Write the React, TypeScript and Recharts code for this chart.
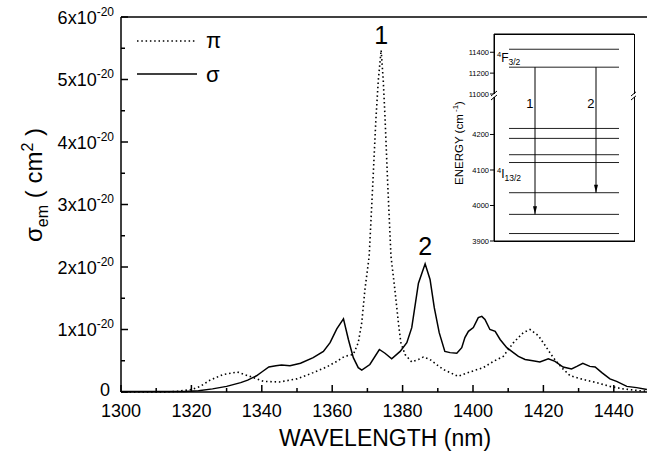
import React from 'react';
import { LineChart, Line, XAxis, YAxis, ReferenceLine, ReferenceDot, Legend } from 'recharts';

const FONT = '"Liberation Sans", Arial, Helvetica, sans-serif';

// emission cross section, units of 1e-20 cm^2
const SIGMA_NM = [1300, 1310, 1318, 1322, 1326, 1330, 1334, 1336, 1338.5, 1340, 1342, 1344, 1345.6, 1348, 1351, 1354.6, 1357.5, 1359.4, 1361.3, 1363.2, 1364.6, 1366, 1367.4, 1368.4, 1370.7, 1373.4, 1375, 1376.9, 1379.3, 1381.2, 1382.6, 1384.5, 1386.4, 1387.8, 1389, 1390.4, 1392, 1393.5, 1395.4, 1396.8, 1397.7, 1398.7, 1400.1, 1401.5, 1402.5, 1403.4, 1404.8, 1406.3, 1407.7, 1409.6, 1411, 1412.9, 1414.8, 1417, 1419, 1421.4, 1423.3, 1425.6, 1428, 1429.5, 1431.2, 1433.2, 1434.7, 1436.6, 1438.9, 1440.8, 1443.7, 1446.5, 1449.4];
const SIGMA_VAL = [0.01, 0.01, 0.01, 0.02, 0.05, 0.09, 0.15, 0.19, 0.26, 0.32, 0.40, 0.42, 0.43, 0.42, 0.46, 0.55, 0.65, 0.79, 1.01, 1.17, 0.84, 0.55, 0.39, 0.35, 0.44, 0.68, 0.62, 0.53, 0.65, 0.79, 1.03, 1.74, 2.05, 1.80, 1.35, 0.95, 0.65, 0.63, 0.62, 0.71, 0.87, 0.97, 1.03, 1.19, 1.21, 1.16, 1.0, 0.97, 0.84, 0.71, 0.65, 0.57, 0.52, 0.50, 0.48, 0.53, 0.49, 0.40, 0.37, 0.41, 0.46, 0.41, 0.40, 0.31, 0.21, 0.17, 0.09, 0.07, 0.04];

const PI_NM = [1300, 1312, 1316, 1320, 1322.5, 1325.3, 1329, 1333, 1336.6, 1340.4, 1345, 1350, 1354.6, 1358.4, 1361.3, 1363.5, 1366, 1367.4, 1368.4, 1369.3, 1370.5, 1371.5, 1372.4, 1373.1, 1373.9, 1374.5, 1375, 1375.8, 1376.7, 1377.8, 1378.8, 1379.5, 1380.7, 1382.6, 1384.5, 1385.9, 1387.8, 1390.1, 1391.6, 1395.8, 1399.1, 1402.9, 1405.8, 1408.6, 1411.5, 1414.3, 1416.2, 1418.6, 1420.9, 1422.8, 1425.2, 1427.6, 1431.3, 1435.1, 1438.9, 1442.7, 1447.4, 1450];
const PI_VAL = [0, 0, 0.01, 0.04, 0.09, 0.19, 0.28, 0.32, 0.25, 0.17, 0.16, 0.21, 0.31, 0.40, 0.49, 0.57, 0.6, 0.79, 1.11, 1.64, 2.17, 3.29, 4.35, 4.99, 5.47, 4.99, 4.4, 3.29, 2.17, 1.64, 1.11, 0.79, 0.6, 0.48, 0.52, 0.56, 0.52, 0.42, 0.36, 0.25, 0.32, 0.39, 0.49, 0.57, 0.79, 0.95, 1.0, 0.9, 0.71, 0.55, 0.39, 0.26, 0.2, 0.15, 0.09, 0.05, 0.02, 0.01];

const X_TICKS = [1300, 1310, 1320, 1330, 1340, 1350, 1360, 1370, 1380, 1390, 1400, 1410, 1420, 1430, 1440, 1450];
const Y_TICKS = [0, 0.5, 1, 1.5, 2, 2.5, 3, 3.5, 4, 4.5, 5, 5.5, 6];

// inset: Stark levels in cm-1
const UPPER_LEVELS = [11429, 11257];
const LOWER_LEVELS = [4217, 4189, 4143, 4121, 4036, 3975, 3921];
const UPPER_TICKS = [11000, 11200, 11400];
const LOWER_TICKS = [3900, 4000, 4100, 4200];
const UPPER_DOMAIN = [11000, 11575];
const LOWER_DOMAIN = [3900, 4314];
const TRANSITIONS = [
  { label: '1', x: 41, from: 11257, to: 3975 },
  { label: '2', x: 102, from: 11257, to: 4036 },
];
const MANIFOLDS = [
  { term: 'F', j: '3/2', e: 11340 },
  { term: 'I', j: '13/2', e: 4087 },
];
const INSET_X = [0, 140];
const LEVEL_SPAN = [15, 125];

const sigmaData = SIGMA_NM.map((nm, i) => ({ nm, v: SIGMA_VAL[i] }));
const piData = PI_NM.map((nm, i) => ({ nm, v: PI_VAL[i] }));

const argmax = (arr: number[]) => arr.reduce((best, v, i) => (v > arr[best] ? i : best), 0);
const PI_PEAK = argmax(PI_VAL);
const SIGMA_PEAK = argmax(SIGMA_VAL);

const DASH: Record<string, string | undefined> = { 'π': '1.5 2.8', 'σ': undefined };

function XTick(props: any) {
  const { x, y, payload } = props;
  const v = payload.value;
  const major = v % 20 === 0;
  return (
    <g>
      <line x1={x} x2={x} y1={y} y2={y - (major ? 7 : 4)} stroke="#000" strokeWidth={1.5} />
      {major && v < 1450 && (
        <text x={x} y={y + 25} textAnchor="middle" fontSize={18} fontFamily={FONT} fill="#000">{v}</text>
      )}
    </g>
  );
}

function YTick(props: any) {
  const { x, y, payload } = props;
  const v = payload.value;
  const major = Number.isInteger(v);
  return (
    <g>
      <line x1={x} x2={x + (major ? 7 : 4)} y1={y} y2={y} stroke="#000" strokeWidth={1.5} />
      {major && v === 0 && (
        <text x={x - 11} y={y + 4} textAnchor="end" fontSize={18} fontFamily={FONT} fill="#000">0</text>
      )}
      {major && v !== 0 && (
        <text x={x - 7} y={y + 6.5} textAnchor="end" fontSize={18} fontFamily={FONT} fill="#000">
          {v}x10<tspan fontSize={12} dy={-8}>-20</tspan>
        </text>
      )}
    </g>
  );
}

function LegendBox(props: any) {
  const items = props.payload || [];
  return (
    <svg width={110} height={70}>
      {items.map((it: any, i: number) => (
        <g key={it.value}>
          <line x1={7} x2={67} y1={16 + i * 33} y2={16 + i * 33} stroke="#000" strokeWidth={1.5} strokeDasharray={DASH[it.value]} />
          <text x={76} y={23 + i * 34} fontSize={22} fontFamily={FONT} fill="#000">{it.value}</text>
        </g>
      ))}
    </svg>
  );
}

function MainChart() {
  return (
    <LineChart width={649} height={459} margin={{ top: 17, right: 0, bottom: 0, left: 0 }}>
      <XAxis
        type="number"
        dataKey="nm"
        domain={[1300, 1450]}
        ticks={X_TICKS}
        interval={0}
        height={67}
        tickSize={0}
        tickMargin={0}
        tick={<XTick />}
        axisLine={{ stroke: '#000', strokeWidth: 1.5 }}
        label={{
          content: (p: any) => {
            const vb = p.viewBox;
            return (
              <text x={vb.x + vb.width / 2} y={vb.y + 54} textAnchor="middle" fontSize={23} fontFamily={FONT} fill="#000">
                WAVELENGTH (nm)
              </text>
            );
          },
        }}
      />
      <YAxis
        type="number"
        domain={[0, 6]}
        ticks={Y_TICKS}
        interval={0}
        width={121}
        tickSize={0}
        tickMargin={0}
        tick={<YTick />}
        axisLine={{ stroke: '#000', strokeWidth: 1.5 }}
        label={{
          content: () => (
            <text transform="translate(42, 185) rotate(-90)" textAnchor="middle" fontSize={24} fontFamily={FONT} fill="#000">
              σ<tspan fontSize={16} dy={6}>em</tspan>
              <tspan dy={-6}> ( cm</tspan>
              <tspan fontSize={16} dy={-9}>2</tspan>
              <tspan dy={9}> )</tspan>
            </text>
          ),
        }}
      />
      <ReferenceLine y={6} stroke="#000" strokeWidth={1.5} />
      <Legend
        content={<LegendBox />}
        layout="vertical"
        align="center"
        verticalAlign="middle"
        wrapperStyle={{ left: 130, top: 25, width: 110, height: 70 }}
      />
      <Line data={piData} dataKey="v" name="π" type="linear" stroke="#000" strokeWidth={1.6} strokeDasharray={DASH['π']} dot={false} activeDot={false} isAnimationActive={false} />
      <Line data={sigmaData} dataKey="v" name="σ" type="linear" stroke="#000" strokeWidth={1.5} dot={false} activeDot={false} isAnimationActive={false} />
      <ReferenceDot
        x={PI_NM[PI_PEAK]}
        y={PI_VAL[PI_PEAK]}
        r={0}
        shape={(p: any) => (
          <text x={p.cx} y={p.cy - 6} textAnchor="middle" fontSize={25} fontFamily={FONT} fill="#000">1</text>
        )}
      />
      <ReferenceDot
        x={SIGMA_NM[SIGMA_PEAK]}
        y={SIGMA_VAL[SIGMA_PEAK]}
        r={0}
        shape={(p: any) => (
          <text x={p.cx} y={p.cy - 9} textAnchor="middle" fontSize={25} fontFamily={FONT} fill="#000">2</text>
        )}
      />
    </LineChart>
  );
}

function levelLines() {
  return [...UPPER_LEVELS, ...LOWER_LEVELS].map((e, i) => (
    <Line
      key={'lvl' + i}
      data={[{ x: LEVEL_SPAN[0], e }, { x: LEVEL_SPAN[1], e }]}
      dataKey="e"
      type="linear"
      stroke="#222"
      strokeWidth={1}
      dot={false}
      activeDot={false}
      isAnimationActive={false}
    />
  ));
}

function arrowLines() {
  return TRANSITIONS.map((t) => (
    <Line
      key={'tr' + t.label}
      data={[{ x: t.x, e: t.from }, { x: t.x, e: t.to }]}
      dataKey="e"
      type="linear"
      stroke="#000"
      strokeWidth={1}
      activeDot={false}
      isAnimationActive={false}
      dot={(p: any) =>
        p.index === 1 ? (
          <path key={'ah' + t.label} d={`M${p.cx},${p.cy} l-2,-8 l4,0 z`} fill="#000" />
        ) : (
          <g key={'ah0' + t.label} />
        )
      }
    />
  ));
}

function manifoldLabels(domain: number[]) {
  return MANIFOLDS.filter((m) => m.e >= domain[0] && m.e <= domain[1]).map((m) => (
    <ReferenceDot
      key={'mf' + m.term}
      x={INSET_X[0]}
      y={m.e}
      r={0}
      shape={(p: any) => (
        <text x={p.cx + 3} y={p.cy + 3} fontSize={12} fontFamily={FONT} fill="#000">
          <tspan fontSize={7.5} dy={-5}>4</tspan>
          <tspan dy={5}>{m.term}</tspan>
          <tspan fontSize={8.5} dy={3}>{m.j}</tspan>
        </text>
      )}
    />
  ));
}

const insetTick = { fontSize: 7.5, fill: '#000', fontFamily: FONT };
const blackLine = { stroke: '#000', strokeWidth: 1 };

function UpperInset() {
  return (
    <LineChart width={196} height={70} margin={{ top: 4, right: 2, bottom: 6, left: 0 }}>
      <XAxis type="number" dataKey="x" domain={INSET_X} allowDataOverflow hide />
      <YAxis type="number" domain={UPPER_DOMAIN} allowDataOverflow ticks={UPPER_TICKS} interval={0} width={54} tickSize={4} tickMargin={1} tick={insetTick} tickLine={blackLine} axisLine={blackLine} />
      <YAxis yAxisId="right" orientation="right" type="number" domain={UPPER_DOMAIN} width={0} tick={false} tickLine={false} axisLine={blackLine} />
      <ReferenceLine y={UPPER_DOMAIN[1]} stroke="#000" strokeWidth={1} />
      {levelLines()}
      {arrowLines()}
      {manifoldLabels(UPPER_DOMAIN)}
    </LineChart>
  );
}

function LowerInset() {
  return (
    <LineChart width={196} height={157} margin={{ top: 4, right: 2, bottom: 6, left: 0 }}>
      <XAxis type="number" dataKey="x" domain={INSET_X} allowDataOverflow hide />
      <YAxis
        type="number"
        domain={LOWER_DOMAIN}
        allowDataOverflow
        ticks={LOWER_TICKS}
        interval={0}
        width={54}
        tickSize={4}
        tickMargin={1}
        tick={insetTick}
        tickLine={blackLine}
        axisLine={blackLine}
        label={{
          content: (p: any) => {
            const vb = p.viewBox || { x: 0, y: 4 };
            return (
              <text transform={`translate(${vb.x + 22.5}, ${vb.y + 49}) rotate(-90)`} textAnchor="middle" fontSize={11.5} fontFamily={FONT} fill="#000">
                ENERGY (cm<tspan fontSize={8} dy={-5}> -1</tspan><tspan dy={5}>)</tspan>
              </text>
            );
          },
        }}
      />
      <YAxis yAxisId="right" orientation="right" type="number" domain={LOWER_DOMAIN} width={0} tick={false} tickLine={false} axisLine={blackLine} />
      <ReferenceLine y={LOWER_DOMAIN[0]} stroke="#000" strokeWidth={1} />
      {levelLines()}
      {arrowLines()}
      {manifoldLabels(LOWER_DOMAIN)}
      {TRANSITIONS.map((t) => (
        <ReferenceDot
          key={'tl' + t.label}
          x={t.x}
          y={LOWER_DOMAIN[1]}
          r={0}
          shape={(p: any) => (
            <text x={p.cx - 1.5} y={p.cy + 14} textAnchor="end" fontSize={13} fontFamily={FONT} fill="#000">{t.label}</text>
          )}
        />
      ))}
      {INSET_X.map((xv) => (
        <ReferenceDot
          key={'brk' + xv}
          x={xv}
          y={LOWER_DOMAIN[1]}
          r={0}
          shape={(p: any) => (
            <g>
              <rect x={p.cx - 2} y={p.cy} width={4} height={3} fill="#fff" />
              <line x1={p.cx - 3} y1={p.cy + 2} x2={p.cx + 3} y2={p.cy - 3} stroke="#000" strokeWidth={1} />
              <line x1={p.cx - 3} y1={p.cy + 6} x2={p.cx + 3} y2={p.cy + 1} stroke="#000" strokeWidth={1} />
            </g>
          )}
        />
      ))}
    </LineChart>
  );
}

export default function App() {
  return (
    <div style={{ position: 'absolute', left: 0, top: 0, width: 647, height: 459, overflow: 'hidden', background: '#fff', fontFamily: FONT }}>
      <MainChart />
      {/* inset frame */}
      <div style={{ position: 'absolute', left: 494, top: 34, width: 141, height: 208, boxSizing: 'border-box', border: '1px solid #000', background: '#fff' }} />
      <div style={{ position: 'absolute', left: 440, top: 30 }}>
        <UpperInset />
      </div>
      <div style={{ position: 'absolute', left: 440, top: 90 }}>
        <LowerInset />
      </div>
    </div>
  );
}
